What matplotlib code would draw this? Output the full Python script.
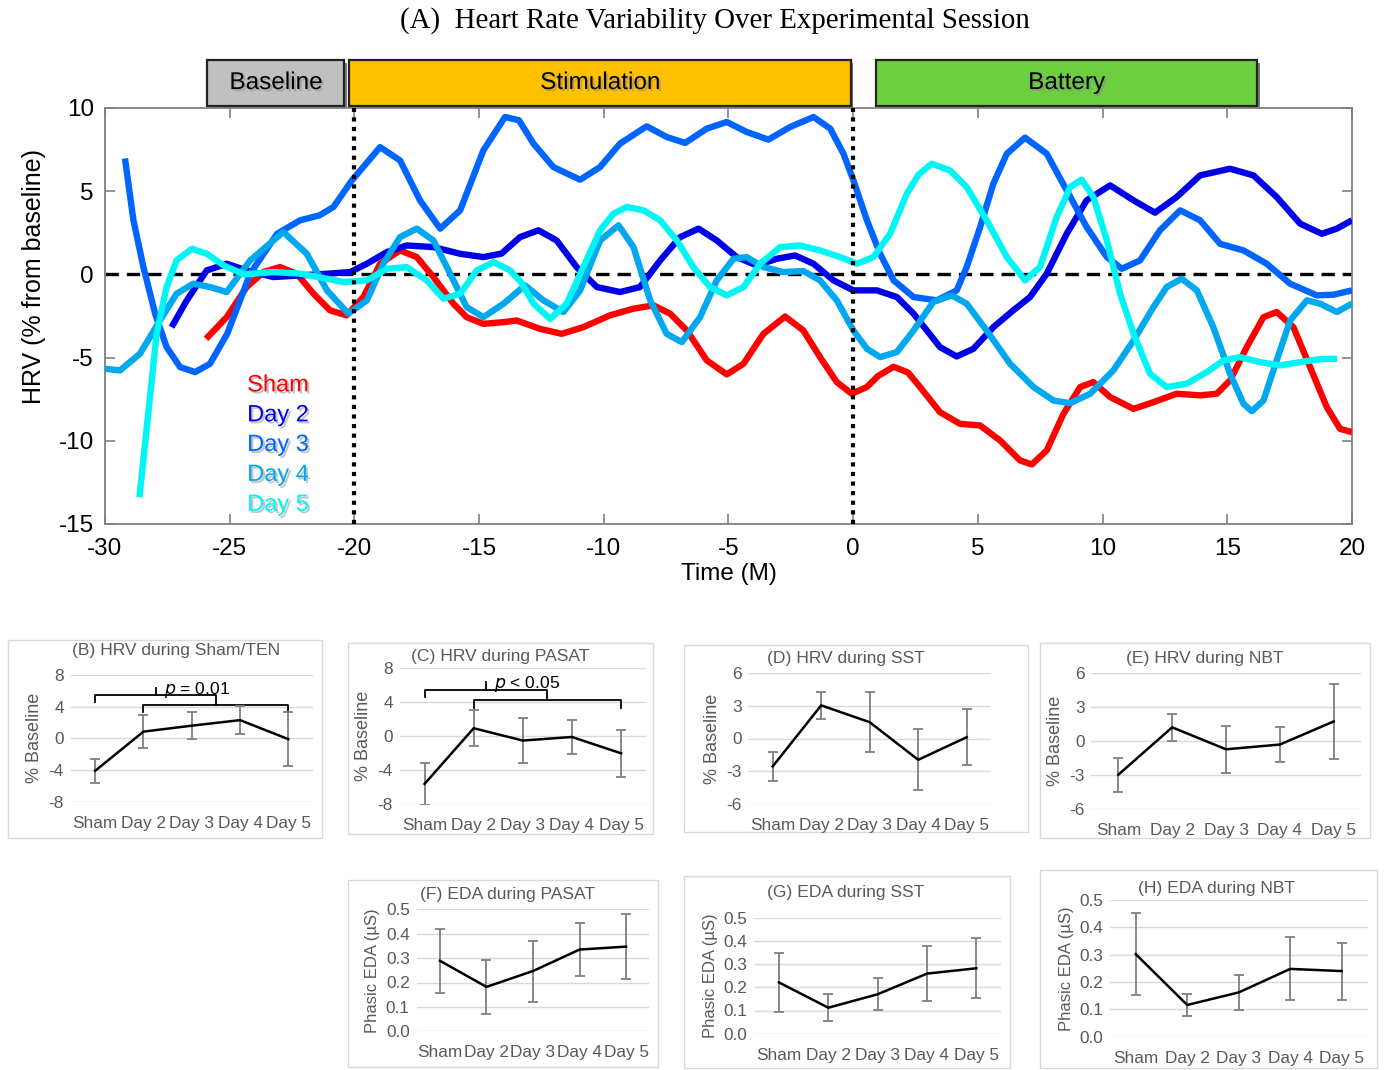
import matplotlib
matplotlib.use("Agg")
import matplotlib.pyplot as plt
import matplotlib.patheffects as pe
from matplotlib.patches import Rectangle
from matplotlib.transforms import blended_transform_factory

plt.rcParams['font.family'] = ['Liberation Sans', 'DejaVu Sans']
plt.rcParams['axes.unicode_minus'] = False

# ---------------- data: main panel (A) ----------------
sham_t = [-25.95, -25.12, -24.32, -23.65, -22.99, -22.31, -21.64, -20.98, -20.31, -19.64, -18.97, -18.17,
          -17.5, -16.83, -16.03, -15.5, -14.83, -14.02, -13.49, -12.56, -11.69, -10.82, -9.75, -8.81, -8.01,
          -7.34, -6.67, -5.87, -5.07, -4.4, -3.6, -2.73, -2.0, -1.33, -0.66, -0.06, 0.55, 1.0, 1.62, 2.2,
          2.68, 3.48, 4.28, 5.09, 5.89, 6.69, 7.16, 7.76, 8.43, 9.1, 9.63, 10.3, 11.24, 12.04, 12.97, 13.91,
          14.58, 15.11, 15.78, 16.45, 16.98, 17.65, 18.32, 18.99, 19.52, 20.0]
sham_v = [-3.87, -2.57, -0.76, 0.14, 0.44, 0.04, -1.16, -2.16, -2.46, -1.36, 0.64, 1.44,
          1.04, -0.16, -1.76, -2.57, -2.97, -2.87, -2.77, -3.27, -3.57, -3.17, -2.46, -2.06, -1.86,
          -2.36, -3.37, -5.17, -6.01, -5.37, -3.57, -2.53, -3.37, -4.97, -6.47, -7.17, -6.77, -6.1, -5.55, -5.9,
          -6.77, -8.28, -8.98, -9.08, -9.98, -11.18, -11.42, -10.58, -8.38, -6.77, -6.47, -7.37, -8.08, -7.68, -7.17, -7.27,
          -7.17, -6.37, -4.37, -2.57, -2.26, -3.17, -5.57, -7.98, -9.28, -9.48]

day2_t = [-27.33, -26.72, -25.92, -25.12, -24.32, -23.25, -22.18, -21.1, -20.17, -19.5, -18.7, -17.9, -16.83,
          -15.76, -14.83, -14.1, -13.36, -12.62, -11.89, -11.09, -10.28, -9.35, -8.55, -7.74, -6.94, -6.2,
          -5.47, -4.67, -3.87, -3.06, -2.33, -1.59, -0.79, 0.01, 0.95, 1.75, 2.42, 3.48, 4.15, 4.82, 5.62,
          6.42, 7.09, 7.76, 8.56, 9.36, 10.3, 11.24, 12.1, 12.97, 13.91, 15.11, 16.05, 16.98, 17.92, 18.79,
          19.39, 20.0]
day2_v = [-3.17, -1.56, 0.24, 0.64, 0.24, -0.16, -0.06, 0.04, 0.14, 0.64, 1.34, 1.74, 1.64,
          1.24, 1.04, 1.25, 2.24, 2.65, 2.04, 0.44, -0.76, -1.06, -0.76, 0.84, 2.24, 2.75,
          2.04, 1.04, 0.54, 0.94, 1.14, 0.64, -0.36, -0.96, -0.96, -1.36, -2.36, -4.37, -4.93, -4.47, -3.17,
          -2.16, -1.36, 0.04, 2.44, 4.45, 5.35, 4.45, 3.71, 4.65, 5.95, 6.35, 5.95, 4.65, 3.05, 2.44,
          2.75, 3.25]

day3_t = [-29.2, -28.86, -28.46, -27.99, -27.53, -26.99, -26.39, -25.79, -25.1, -24.18, -23.1, -22.18, -21.4,
          -20.84, -20.1, -18.97, -18.17, -17.37, -16.56, -15.76, -14.83, -13.96, -13.4, -12.82, -12.02, -10.95,
          -10.15, -9.35, -8.28, -7.48, -6.74, -5.87, -5.07, -4.27, -3.4, -2.53, -1.59, -0.92, -0.39, 0.01,
          0.55, 1.08, 1.62, 2.42, 3.35, 4.15, 4.55, 5.09, 5.62, 6.16, 6.89, 7.76, 8.56, 9.36, 10.17, 10.77,
          11.5, 12.3, 13.11, 13.91, 14.71, 15.65, 16.58, 17.52, 18.59, 19.26, 20.0]
day3_v = [6.97, 3.25, 0.44, -2.36, -4.37, -5.57, -5.87, -5.37, -3.57, 0.04, 2.44, 3.25, 3.55,
          4.05, 5.65, 7.65, 6.85, 4.45, 2.75, 3.85, 7.45, 9.46, 9.26, 7.86, 6.45, 5.69,
          6.45, 7.86, 8.9, 8.26, 7.9, 8.76, 9.16, 8.56, 8.1, 8.86, 9.46, 8.76, 7.25, 5.65,
          3.25, 1.24, -0.36, -1.36, -1.56, -0.96, 0.44, 2.85, 5.45, 7.25, 8.22, 7.25, 5.05, 2.85, 1.04, 0.34,
          0.84, 2.65, 3.85, 3.25, 1.84, 1.44, 0.64, -0.56, -1.26, -1.22, -0.96]

day4_t = [-30.0, -29.4, -28.6, -27.8, -27.13, -26.46, -25.79, -25.12, -24.18, -22.85, -21.91, -21.1, -20.24,
          -19.5, -18.84, -18.17, -17.5, -16.83, -16.16, -15.5, -14.83, -14.02, -13.16, -12.42, -11.62, -10.95,
          -10.15, -9.41, -8.81, -8.14, -7.48, -6.87, -6.14, -5.47, -4.8, -4.27, -3.6, -2.8, -2.0, -1.33, -0.66,
          0.01, 0.55, 1.08, 1.75, 2.42, 3.21, 3.95, 4.55, 5.35, 6.29, 7.23, 8.03, 8.7, 9.5, 10.43, 11.24,
          12.04, 12.57, 13.17, 13.78, 14.44, 15.11, 15.65, 15.98, 16.45, 16.98, 17.52, 18.19, 18.72, 19.39, 20.0]
day4_v = [-5.67, -5.77, -4.77, -2.77, -1.16, -0.56, -0.76, -1.06, 0.84, 2.55, 1.24, -0.96, -2.36,
          -1.56, 0.64, 2.24, 2.75, 2.04, 0.04, -1.96, -2.57, -1.76, -0.66, -1.56, -2.26, -0.96,
          2.04, 2.95, 1.64, -1.56, -3.57, -4.07, -2.57, -0.36, 0.94, 1.04, 0.44, 0.14, 0.2, -0.36, -1.56,
          -3.37, -4.47, -4.97, -4.67, -3.37, -1.66, -1.26, -1.76, -3.37, -5.37, -6.77, -7.58, -7.74, -7.17, -5.77, -3.97,
          -1.96, -0.76, -0.26, -0.96, -3.17, -5.97, -7.78, -8.22, -7.58, -5.17, -2.77, -1.56, -1.76, -2.26, -1.76]

day5_t = [-28.62, -27.93, -27.53, -27.13, -26.52, -25.92, -25.2, -24.4, -23.25, -22.2, -21.1, -20.44, -19.5,
          -18.7, -17.9, -17.1, -16.43, -15.76, -15.09, -14.42, -13.76, -13.3, -12.82, -12.15, -11.49, -10.82,
          -10.15, -9.61, -9.08, -8.41, -7.74, -7.07, -6.41, -5.74, -5.07, -4.4, -3.73, -2.93, -2.13, -1.33,
          -0.52, 0.15, 0.81, 1.48, 2.15, 2.62, 3.15, 3.88, 4.55, 5.35, 6.16, 6.89, 7.49, 8.16, 8.7, 9.16,
          9.63, 10.17, 10.7, 11.24, 11.9, 12.57, 13.37, 14.18, 14.85, 15.51, 16.31, 17.12, 17.92, 18.72, 19.4]
day5_v = [-13.39, -3.57, -0.76, 0.84, 1.54, 1.24, 0.5, 0.0, 0.14, 0.05, -0.26, -0.46, -0.36,
          0.34, 0.44, -0.36, -1.46, -1.16, 0.24, 0.74, 0.24, -0.5, -1.76, -2.67, -1.76, 0.44,
          2.65, 3.65, 4.05, 3.85, 3.25, 2.04, 0.44, -0.76, -1.26, -0.76, 0.64, 1.64, 1.74, 1.44,
          1.04, 0.64, 1.04, 2.44, 4.85, 6.0, 6.65, 6.25, 5.25, 3.25, 1.04, -0.36, 0.44, 3.45, 5.25, 5.69,
          4.65, 2.04, -1.16, -3.57, -5.97, -6.77, -6.57, -5.87, -5.17, -4.97, -5.27, -5.47, -5.27, -5.09, -5.07]

series_names = ["Sham", "Day 2", "Day 3", "Day 4", "Day 5"]
series_t = [sham_t, day2_t, day3_t, day4_t, day5_t]
series_v = [sham_v, day2_v, day3_v, day4_v, day5_v]
series_colors = ["#FF0000", "#0000E8", "#0064FF", "#00A8F0", "#00F5F5"]

phase_names = ["Baseline", "Stimulation", "Battery"]
phase_start = [-25.9, -20.2, 0.9]
phase_end = [-20.4, -0.1, 16.2]
phase_colors = ["#C0C0C0", "#FFC000", "#6CCF3F"]
phase_markers = [-20, 0]

# ---------------- data: small panels ----------------
categories = ["Sham", "Day 2", "Day 3", "Day 4", "Day 5"]
hrv_sham_ten_mean = [-4.1, 0.85, 1.6, 2.3, -0.1]
hrv_sham_ten_err = [1.5, 2.1, 1.7, 1.8, 3.4]
hrv_pasat_mean = [-5.6, 0.95, -0.5, -0.08, -2.0]
hrv_pasat_err = [2.5, 2.1, 2.6, 1.95, 2.8]
hrv_sst_mean = [-2.57, 3.05, 1.5, -1.96, 0.12]
hrv_sst_err = [1.33, 1.25, 2.75, 2.8, 2.57]
hrv_nbt_mean = [-2.97, 1.22, -0.72, -0.3, 1.74]
hrv_nbt_err = [1.5, 1.2, 2.1, 1.55, 3.3]
eda_pasat_mean = [0.289, 0.182, 0.247, 0.335, 0.347]
eda_pasat_err = [0.13, 0.11, 0.125, 0.107, 0.134]
eda_sst_mean = [0.221, 0.112, 0.17, 0.259, 0.282]
eda_sst_err = [0.127, 0.058, 0.068, 0.12, 0.13]
eda_nbt_mean = [0.302, 0.116, 0.162, 0.248, 0.24]
eda_nbt_err = [0.15, 0.039, 0.063, 0.115, 0.104]

hrv_ticks_8 = [-8, -4, 0, 4, 8]
hrv_ticks_6 = [-6, -3, 0, 3, 6]
eda_ticks = [0.0, 0.1, 0.2, 0.3, 0.4, 0.5]

W, H = 1384, 1070
fig = plt.figure(figsize=(W / 100, H / 100), dpi=100)


def rect(x0, y0, x1, y1):
    return [x0 / W, 1 - y1 / H, (x1 - x0) / W, (y1 - y0) / H]


# ---------------- main panel ----------------
ax = fig.add_axes(rect(105, 108, 1352, 524))
for name, t, v, c in zip(series_names, series_t, series_v, series_colors):
    ax.plot(t, v, color=c, lw=4.6, solid_capstyle='butt', solid_joinstyle='round', zorder=3)
ax.axhline(0, color='black', lw=2.4, ls=(0, (4, 2.4)), zorder=2)
for m in phase_markers:
    ax.axvline(m, color='black', lw=3, ls=(0, (1, 1.3)), zorder=4)
ax.set_xlim(-30, 20)
ax.set_ylim(-15, 10)
ax.set_xticks(range(-30, 21, 5))
ax.set_yticks(range(-15, 11, 5))
ax.tick_params(direction='in', length=7, width=1.2, color='#808080', labelsize=17.5,
               top=True, right=True)
ax.tick_params(axis='x', pad=10)
ax.tick_params(axis='y', pad=8)
for s in ax.spines.values():
    s.set_color('#808080')
    s.set_linewidth(1.3)
ax.set_xlabel("Time (M)", fontsize=17.5, labelpad=2)
ax.set_ylabel("HRV (% from baseline)", fontsize=18, labelpad=6)
ax.yaxis.set_label_coords(-0.047, 0.596)

# legend as coloured text
shadow = [pe.withSimplePatchShadow(offset=(1.5, -1.5), shadow_rgbFace='#888888', alpha=0.5)]
leg_y = [-6.67, -8.47, -10.25, -12.05, -13.85]
for name, c, y in zip(series_names, series_colors, leg_y):
    ax.text(-24.3, y, name, color=c, fontsize=17, va='center', ha='left', path_effects=shadow)

# phase boxes
bt = blended_transform_factory(ax.transData, ax.transAxes)
for name, s, e, c in zip(phase_names, phase_start, phase_end, phase_colors):
    r = Rectangle((s, 1.006), e - s, 0.109, transform=bt, clip_on=False, facecolor=c,
                  edgecolor='#222222', lw=1.6,
                  path_effects=[pe.SimplePatchShadow(offset=(2, -2), shadow_rgbFace='#444444', alpha=0.7),
                                pe.Normal()])
    ax.add_patch(r)
    ax.text((s + e) / 2, 1.06, name, transform=bt, ha='center', va='center', fontsize=17.5,
            color='black', path_effects=shadow, clip_on=False)

fig.text(715 / W, 1 - 21 / H, "(A)  Heart Rate Variability Over Experimental Session",
         family=['Liberation Serif', 'DejaVu Serif'], fontsize=20.8, ha='center', va='center')

# ---------------- small panels ----------------
panels = [
    dict(title="(B) HRV during Sham/TEN", mean=hrv_sham_ten_mean, err=hrv_sham_ten_err, ticks=hrv_ticks_8,
         ylabel="% Baseline", frame=(8, 640, 322, 838), area=(71, 675, 312.5, 801.7), tpos=(176, 651),
         sig="0.01", sigop="="),
    dict(title="(C) HRV during PASAT", mean=hrv_pasat_mean, err=hrv_pasat_err, ticks=hrv_ticks_8,
         ylabel="% Baseline", frame=(348, 643, 653, 834), area=(400, 668.3, 645.6, 804.3), tpos=(500, 657),
         sig="0.05", sigop="<"),
    dict(title="(D) HRV during SST", mean=hrv_sst_mean, err=hrv_sst_err, ticks=hrv_ticks_6,
         ylabel="% Baseline", frame=(684, 645, 1028, 832), area=(748.4, 673.3, 991, 803.7), tpos=(846, 658),
         sig=None, sigop=None),
    dict(title="(E) HRV during NBT", mean=hrv_nbt_mean, err=hrv_nbt_err, ticks=hrv_ticks_6,
         ylabel="% Baseline", frame=(1040, 643, 1370, 838), area=(1091.4, 673.3, 1360.6, 809), tpos=(1205, 658),
         sig=None, sigop=None),
    dict(title="(F) EDA during PASAT", mean=eda_pasat_mean, err=eda_pasat_err, ticks=eda_ticks,
         ylabel="Phasic EDA (µS)", frame=(348, 880, 658, 1067), area=(416.7, 909.3, 649.3, 1031.3), tpos=(508, 895),
         sig=None, sigop=None),
    dict(title="(G) EDA during SST", mean=eda_sst_mean, err=eda_sst_err, ticks=eda_ticks,
         ylabel="Phasic EDA (µS)", frame=(684, 876, 1010, 1068), area=(754.3, 917.7, 1001, 1033.7), tpos=(846, 893),
         sig=None, sigop=None),
    dict(title="(H) EDA during NBT", mean=eda_nbt_mean, err=eda_nbt_err, ticks=eda_ticks,
         ylabel="Phasic EDA (µS)", frame=(1040, 870, 1377, 1068), area=(1110, 900, 1367.5, 1036.7), tpos=(1217, 888),
         sig=None, sigop=None),
]

grey_txt = '#595959'
for p in panels:
    fx0, fy0, fx1, fy1 = p['frame']
    fig.patches.append(Rectangle((fx0 / W, 1 - fy1 / H), (fx1 - fx0) / W, (fy1 - fy0) / H,
                                 transform=fig.transFigure, facecolor='none', edgecolor='#D9D9D9',
                                 lw=1.0, zorder=-1))
    a = fig.add_axes(rect(*p['area']))
    a.set_facecolor('none')
    x = list(range(len(categories)))
    a.errorbar(x, p['mean'], yerr=p['err'], color='black', lw=1.8, ecolor='#7F7F7F',
               elinewidth=1.3, capsize=3.5, capthick=1.3, zorder=3)
    a.set_xlim(-0.5, len(categories) - 0.5)
    a.set_ylim(p['ticks'][0], p['ticks'][-1])
    a.set_yticks(p['ticks'])
    if p['ticks'] is eda_ticks:
        a.set_yticklabels([f"{v:.1f}" for v in p['ticks']])
    a.set_xticks(x)
    a.set_xticklabels(categories)
    a.grid(axis='y', color='#D9D9D9', lw=1.0, zorder=0)
    a.set_axisbelow(True)
    for s in a.spines.values():
        s.set_visible(False)
    a.tick_params(length=0, labelsize=12.4, colors=grey_txt)
    a.tick_params(axis='x', pad=10)
    a.tick_params(axis='y', pad=5)
    a.set_ylabel(p['ylabel'], fontsize=13 if p['ylabel'].startswith('%') else 12, color=grey_txt, labelpad=4)
    fig.text(p['tpos'][0] / W, 1 - p['tpos'][1] / H, p['title'], fontsize=12.6, color=grey_txt,
             ha='center', va='center')
    if p['sig'] is not None:
        top = p['ticks'][-1]
        yb1 = top * 0.685
        yb2 = top * 0.53
        tip = top * 0.11
        # bracket over Day 2 .. Day 5
        a.plot([1, 1, 4, 4], [yb2 - tip, yb2, yb2, yb2 - tip], color='black', lw=1.3, clip_on=False)
        # bracket from Sham to the middle of the Day 2 .. Day 5 bracket
        a.plot([0, 0, 2.5, 2.5], [yb1 - tip, yb1, yb1, yb2], color='black', lw=1.3, clip_on=False)
        a.plot([1.25, 1.25], [yb1, yb1 + tip], color='black', lw=1.3, clip_on=False)
        a.text(1.42, yb1 + tip * 0.75, f"$p$ {p['sigop']} {p['sig']}", fontsize=12.5, color='black',
               ha='left', va='center')

fig.savefig("out.png", dpi=100)
